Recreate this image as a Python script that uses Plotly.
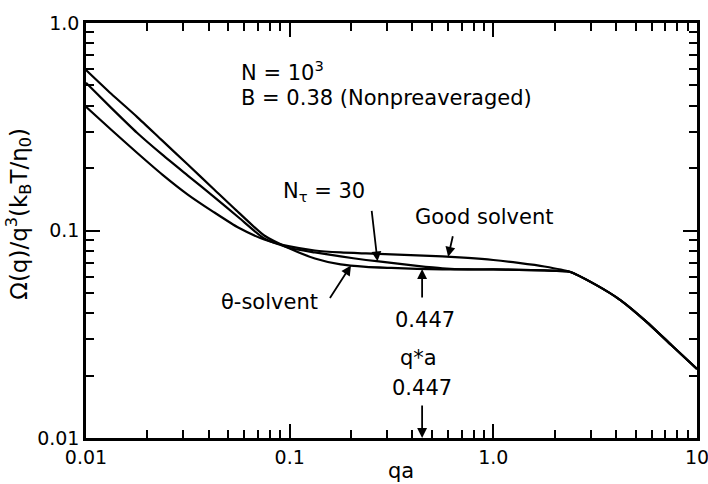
import numpy as np
import plotly.graph_objects as go

# Reduced wavevector qa, eighth-decade steps from 0.01 to 10
qa = [0.01, 0.0133, 0.0178, 0.0237, 0.0316, 0.0422, 0.0562, 0.075,
      0.1, 0.133, 0.178, 0.237, 0.316, 0.422, 0.562, 0.75,
      1.0, 1.33, 1.78, 2.37, 3.16, 4.22, 5.62, 7.5, 10.0]

# Omega(q)/q^3 in units of kBT/eta0
om_theta = [0.594, 0.456, 0.353, 0.271, 0.208, 0.159, 0.122, 0.0946,
            0.0819, 0.0733, 0.0686, 0.0668, 0.0660, 0.0653, 0.0649, 0.0649,
            0.0649, 0.0646, 0.0642, 0.0633, 0.0550, 0.0461, 0.0365, 0.0280, 0.0215]

om_nt30 = [0.515, 0.390, 0.296, 0.232, 0.184, 0.146, 0.1155, 0.0915,
           0.0824, 0.0784, 0.0750, 0.0721, 0.0698, 0.0675, 0.0657, 0.0649,
           0.0649, 0.0646, 0.0642, 0.0633, 0.0550, 0.0461, 0.0365, 0.0280, 0.0215]

om_good = [0.395, 0.306, 0.237, 0.186, 0.149, 0.123, 0.103, 0.0905,
           0.0838, 0.0801, 0.0784, 0.0775, 0.0767, 0.0758, 0.0750, 0.0738,
           0.0721, 0.0698, 0.0671, 0.0633, 0.0550, 0.0461, 0.0365, 0.0280, 0.0215]

q_star = 0.447

x_ticks = [0.01, 0.1, 1.0, 10.0]
x_ticktext = ["0.01", "0.1", "1.0", "10"]
y_ticks = [0.01, 0.1, 1.0]
y_ticktext = ["0.01", "0.1", "1.0"]

FONT = "DejaVu Sans"

fig = go.Figure()
for om in [om_theta, om_nt30, om_good]:
    fig.add_trace(go.Scatter(x=qa, y=om, mode="lines",
                             line=dict(color="black", width=2.2, shape="spline", smoothing=0.6),
                             showlegend=False, hoverinfo="skip"))

# transparent copy on the top/right axes so their tick frame is drawn
fig.add_trace(go.Scatter(x=qa, y=om_theta, mode="lines", xaxis="x2", yaxis="y2",
                         line=dict(color="rgba(0,0,0,0)", width=1),
                         showlegend=False, hoverinfo="skip"))

minor_ticks = dict(ticks="inside", ticklen=8, tickwidth=1.8, tickcolor="black",
                   dtick="D1", showgrid=False)

axis_common = dict(
    type="log", showgrid=False, zeroline=False, automargin=False,
    showline=True, linecolor="black", linewidth=2.5,
    ticks="inside", ticklen=14, tickwidth=2, tickcolor="black",
    ticklabeloverflow="allow",
    minor=minor_ticks,
)
label_font = dict(family=FONT, size=19, color="black")

fig.update_layout(
    xaxis=dict(range=[-2, 1], tickvals=x_ticks, ticktext=x_ticktext, tickfont=label_font, **axis_common),
    yaxis=dict(range=[-2, 0], tickvals=y_ticks, ticktext=y_ticktext, tickfont=label_font, **axis_common),
    xaxis2=dict(range=[-2, 1], tickvals=x_ticks, overlaying="x", side="top", anchor="y",
                showticklabels=False, **axis_common),
    yaxis2=dict(range=[-2, 0], tickvals=y_ticks, overlaying="y", side="right", anchor="x",
                showticklabels=False, **axis_common),
)

txt = dict(family=FONT, size=21, color="black")

def on_curve(om, x):
    return float(np.interp(np.log10(x), np.log10(qa), np.log10(om)))

annotations = [
    dict(xref="paper", yref="paper", x=0.25, y=0.885, text="N = 10<sup>3</sup>",
         showarrow=False, xanchor="left", yanchor="middle", font=txt),
    dict(xref="paper", yref="paper", x=0.25, y=0.82, text="B = 0.38 (Nonpreaveraged)",
         showarrow=False, xanchor="left", yanchor="middle", font=txt),
    dict(xref="paper", yref="paper", x=0.39, y=0.593, text="N<sub>τ</sub> = 30",
         showarrow=False, xanchor="center", yanchor="middle", font=txt),
    dict(xref="paper", yref="paper", x=0.652, y=0.532, text="Good solvent",
         showarrow=False, xanchor="center", yanchor="middle", font=txt),
    dict(xref="paper", yref="paper", x=0.30, y=0.328, text="θ-solvent",
         showarrow=False, xanchor="center", yanchor="middle", font=txt),
    dict(xref="paper", yref="paper", x=0.555, y=0.285, text="0.447",
         showarrow=False, xanchor="center", yanchor="middle", font=txt),
    dict(xref="paper", yref="paper", x=0.545, y=0.193, text="q*a",
         showarrow=False, xanchor="center", yanchor="middle", font=txt),
    dict(xref="paper", yref="paper", x=0.55, y=0.12, text="0.447",
         showarrow=False, xanchor="center", yanchor="middle", font=txt),
    dict(xref="paper", yref="paper", x=0.515, y=-0.08, text="qa",
         showarrow=False, xanchor="center", yanchor="middle", font=txt),
    dict(xref="paper", yref="paper", x=-0.11, y=0.54,
         text="Ω(q)/q<sup>3</sup>(k<sub>B</sub>T/η<sub>0</sub>)",
         showarrow=False, textangle=-90, xanchor="center", yanchor="middle",
         font=dict(family=FONT, size=23, color="black")),
]

arrow = dict(showarrow=True, arrowhead=2, arrowsize=1.1, arrowwidth=1.8,
             arrowcolor="black", text="", axref="pixel", ayref="pixel")

# arrow heads sit on the curves they point at
annotations += [
    dict(x=np.log10(0.27), y=on_curve(om_nt30, 0.27), ax=-6, ay=-52, **arrow),
    dict(x=np.log10(0.6), y=on_curve(om_good, 0.6), ax=5, ay=-22, **arrow),
    dict(x=np.log10(0.2), y=on_curve(om_theta, 0.2), ax=-22, ay=34, **arrow),
    dict(x=np.log10(q_star), y=on_curve(om_theta, q_star), ax=0, ay=30, **arrow),
    dict(x=np.log10(q_star), y=-2, ax=0, ay=-34, **arrow),
]

fig.update_layout(
    width=708, height=484,
    margin=dict(l=86, r=11, t=23, b=46),
    paper_bgcolor="white", plot_bgcolor="white",
    annotations=annotations,
    font=dict(family=FONT, color="black"),
)

fig.write_html("out.html")
